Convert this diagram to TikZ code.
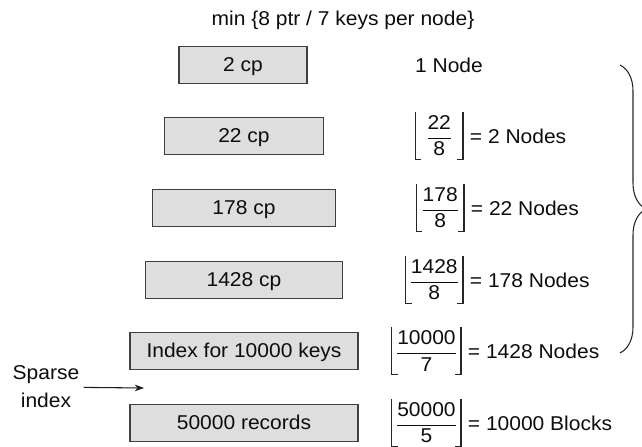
\documentclass[tikz,border=0pt]{standalone}
\usepackage{amsmath}
\usepackage{fontspec}
\setmainfont{Liberation Sans}[FakeStretch=1.05]
\usetikzlibrary{positioning,arrows.meta,decorations.pathreplacing}
% floor brackets round a fraction node
\newcommand{\floorbrk}[1]{%
  \draw[bracket] (#1.north west) -- (#1.south west) -- ++(6,0);
  \draw[bracket] (#1.north east) -- (#1.south east) -- ++(-6,0);}
\newcommand{\flfrac}[2]{$\genfrac{}{}{0.6pt}{0}{\text{#1}}{\text{#2}}$}
\begin{document}
\begin{tikzpicture}
[x=0.75pt,y=-0.75pt,
font=\fontsize{15}{18}\selectfont,text=black!95,
cpbox/.style={rectangle,draw=black!75,fill=black!13,line width=0.8pt,minimum height=27.75pt,text height=11pt,text depth=2pt},
floorfrac/.style={rectangle,minimum width=35.25pt,minimum height=35pt,inner xsep=2.6pt,inner ysep=0pt},
tally/.style={inner sep=0pt},
bracket/.style={line width=0.8pt,black!85},
curly/.style={decorate,decoration={brace,amplitude=19.5pt},line width=0.8pt,black!85},
pointer/.style={-{Stealth[length=7pt,width=5pt]},line width=0.8pt,black!90}]
\useasboundingbox (0,0) rectangle (642,446);
\node[tally] (title) at (343,20) {min \{8 ptr / 7 keys per node\}};
% index levels
\node[cpbox,minimum width=96pt] (b1) at (243,65) {2 cp};
\node[cpbox,minimum width=119.25pt] (b2) at (244,136) {22 cp};
\node[cpbox,minimum width=137.25pt] (b3) at (244,208) {178 cp};
\node[cpbox,minimum width=147.75pt] (b4) at (244,280) {1428 cp};
\node[cpbox,minimum width=171pt] (b5) at (244,351) {Index for 10000 keys};
\node[cpbox,minimum width=171pt] (b6) at (244,423) {50000 records};
% node counts
\node[tally] (n1) at (449,65) {1 Node};
\node[floorfrac,anchor=east] (f2) at (463,136) {\flfrac{22}{8}};
\node[tally,right=5pt of f2] (n2) {= 2 Nodes};
\node[floorfrac,anchor=east] (f3) at (464,208) {\flfrac{178}{8}};
\node[tally,right=5pt of f3] (n3) {= 22 Nodes};
\node[floorfrac,anchor=east] (f4) at (463,280) {\flfrac{1428}{8}};
\node[tally,right=5pt of f4] (n4) {= 178 Nodes};
\node[floorfrac,anchor=east] (f5) at (461,351) {\flfrac{10000}{7}};
\node[tally,right=5pt of f5] (n5) {= 1428 Nodes};
\node[floorfrac,anchor=east] (f6) at (461,423) {\flfrac{50000}{5}};
\node[tally,right=5pt of f6] (n6) {= 10000 Blocks};
\floorbrk{f2}
\floorbrk{f3}
\floorbrk{f4}
\floorbrk{f5}
\floorbrk{f6}
\coordinate (top) at (620,65);
\coordinate (bot) at (620,353);
\draw[curly] (top) -- (bot);
% sparse index
\node[align=center,inner xsep=3pt,font=\fontsize{15}{21}\selectfont] (sparse) at (46,387) {Sparse\\index};
\coordinate (tip) at (144,388);
\draw[pointer] (sparse) -- (tip);
\end{tikzpicture}
\end{document}
